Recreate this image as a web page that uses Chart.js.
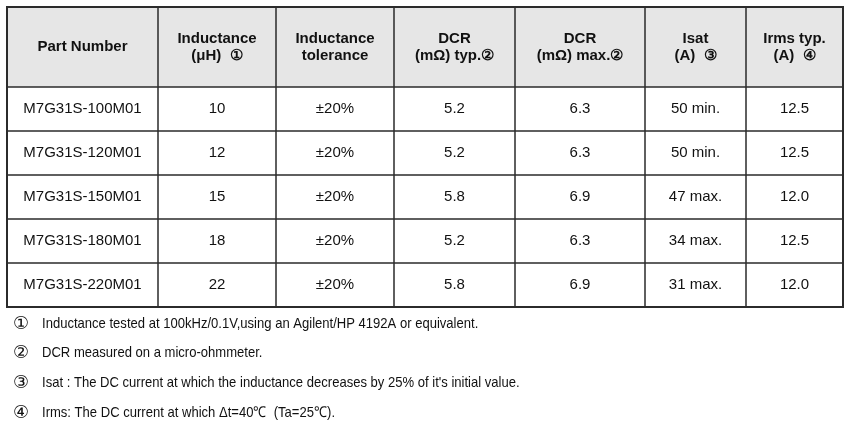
<!DOCTYPE html>
<html>
<head>
<meta charset="utf-8">
<script src="https://cdn.jsdelivr.net/npm/chart.js@4/dist/chart.umd.min.js"></script>
<style>
  html, body { margin: 0; padding: 0; background: #fff; }
  canvas { display: block; }
</style>
</head>
<body>
<canvas id="specTable" width="853" height="431"></canvas>
<script>
// table content
const headers = [
  ['Part Number'],
  ['Inductance', '(μH)  ①'],
  ['Inductance', 'tolerance'],
  ['DCR', '(mΩ) typ.②'],
  ['DCR', '(mΩ) max.②'],
  ['Isat', '(A)  ③'],
  ['Irms typ.', '(A)  ④']
];
const partNumbers = ['M7G31S-100M01', 'M7G31S-120M01', 'M7G31S-150M01', 'M7G31S-180M01', 'M7G31S-220M01'];
const inductance = ['10', '12', '15', '18', '22'];
const tolerance = ['±20%', '±20%', '±20%', '±20%', '±20%'];
const dcrTyp = ['5.2', '5.2', '5.8', '5.2', '5.8'];
const dcrMax = ['6.3', '6.3', '6.9', '6.3', '6.9'];
const isat = ['50 min.', '50 min.', '47 max.', '34 max.', '31 max.'];
const irms = ['12.5', '12.5', '12.0', '12.5', '12.0'];
const noteMarks = ['①', '②', '③', '④'];
const notes = [
  'Inductance tested at 100kHz/0.1V,using an Agilent/HP 4192A or equivalent.',
  'DCR measured on a micro-ohmmeter.',
  "Isat : The DC current at which the inductance decreases by 25% of it's initial value.",
  'Irms: The DC current at which \u0394t=40\u2103  (Ta=25\u2103).'
];

// layout (page units, mapped through the chart scales)
const colEdges = [7, 158, 276, 394, 515, 645, 746, 843];
const rowEdges = [7, 87, 131, 175, 219, 263, 307];
const noteY = [324, 353, 383, 413];

const columns = [partNumbers, inductance, tolerance, dcrTyp, dcrMax, isat, irms];

const tablePlugin = {
  id: 'specTable',
  afterDraw(chart) {
    const ctx = chart.ctx;
    const sx = v => chart.scales.x.getPixelForValue(v);
    const sy = v => chart.scales.y.getPixelForValue(v);
    const left = sx(colEdges[0]), right = sx(colEdges[colEdges.length - 1]);
    const top = sy(rowEdges[0]), bottom = sy(rowEdges[rowEdges.length - 1]);

    ctx.save();
    // header background
    ctx.fillStyle = '#e6e6e6';
    ctx.fillRect(left, top, right - left, sy(rowEdges[1]) - top);

    // grid lines
    ctx.strokeStyle = '#2b2b2b';
    ctx.lineWidth = 1.5;
    ctx.beginPath();
    rowEdges.forEach(r => { ctx.moveTo(left, sy(r)); ctx.lineTo(right, sy(r)); });
    colEdges.forEach(c => { ctx.moveTo(sx(c), top); ctx.lineTo(sx(c), bottom); });
    ctx.stroke();
    ctx.lineWidth = 2;
    ctx.strokeRect(left, top, right - left, bottom - top);

    // header text
    ctx.fillStyle = '#111';
    ctx.textAlign = 'center';
    ctx.textBaseline = 'middle';
    ctx.font = 'bold 15px "Liberation Sans", Arial, sans-serif';
    headers.forEach((lines, i) => {
      const cx = (sx(colEdges[i]) + sx(colEdges[i + 1])) / 2;
      const cy = (sy(rowEdges[0]) + sy(rowEdges[1])) / 2;
      const lh = 17;
      lines.forEach((t, k) => {
        ctx.fillText(t, cx, cy + (k - (lines.length - 1) / 2) * lh);
      });
    });

    // body cells
    ctx.font = '15px "Liberation Sans", Arial, sans-serif';
    columns.forEach((col, i) => {
      const cx = (sx(colEdges[i]) + sx(colEdges[i + 1])) / 2;
      col.forEach((t, r) => {
        const cy = (sy(rowEdges[r + 1]) + sy(rowEdges[r + 2])) / 2;
        ctx.fillText(t, cx, cy);
      });
    });

    // footnotes (slightly condensed face, as in the source)
    ctx.textAlign = 'left';
    notes.forEach((t, i) => {
      const y = sy(noteY[i]);
      ctx.font = '18px "DejaVu Sans", sans-serif';
      ctx.fillText(noteMarks[i], sx(13), y);
      ctx.save();
      ctx.translate(sx(42), y);
      ctx.scale(0.87, 1);
      ctx.font = '15px "Liberation Sans", Arial, sans-serif';
      ctx.fillText(t, 0, 0);
      ctx.restore();
    });
    ctx.restore();
  }
};

new Chart(document.getElementById('specTable').getContext('2d'), {
  type: 'scatter',
  data: { datasets: [] },
  options: {
    responsive: false,
    animation: false,
    events: [],
    layout: { padding: 0 },
    plugins: { legend: { display: false }, tooltip: { enabled: false } },
    scales: {
      x: { type: 'linear', min: 0, max: 853, display: false },
      y: { type: 'linear', min: 0, max: 431, reverse: true, display: false }
    }
  },
  plugins: [tablePlugin]
});
</script>
</body>
</html>
